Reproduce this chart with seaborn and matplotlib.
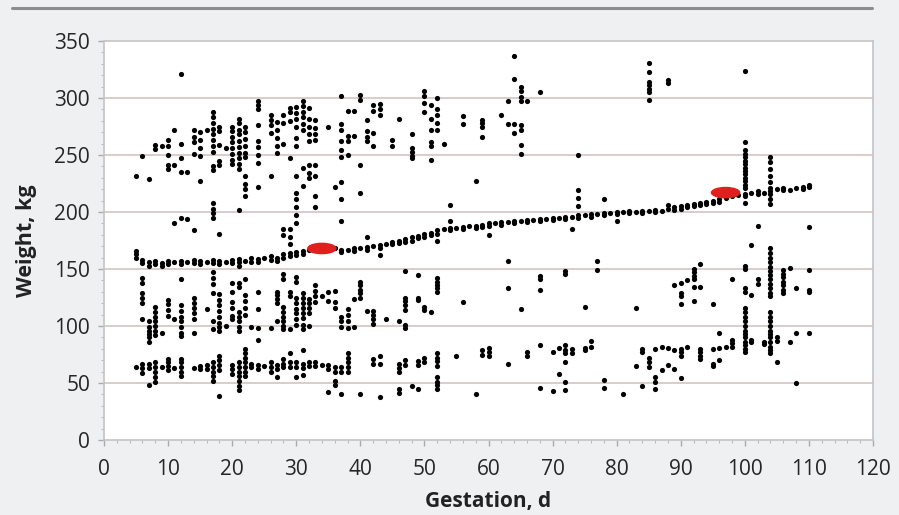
import pandas as pd
import seaborn as sns
import matplotlib.pyplot as plt
from matplotlib.patches import Ellipse
from matplotlib.lines import Line2D
from matplotlib.ticker import MultipleLocator

# gestation day -> body weights (kg), grouped by band
trend = {
    5: [166, 163, 160], 6: [158, 155], 7: [156, 153], 8: [157, 154], 9: [155, 153],
    10: [157, 154], 11: [156], 12: [157, 154], 13: [156], 14: [158, 155],
    15: [157, 154], 16: [156], 17: [158, 155], 18: [157, 154], 19: [156],
    20: [158, 155], 21: [159, 156, 153], 22: [157], 23: [160, 156], 24: [159, 156],
    25: [160], 26: [161, 158], 27: [160, 157], 28: [163, 160], 29: [164, 161],
    30: [165, 162], 31: [166, 163], 32: [167], 33: [168], 34: [168], 35: [167],
    36: [168], 37: [167, 165], 38: [167], 39: [168, 166], 40: [168],
    41: [169, 167], 42: [170], 43: [171, 168], 44: [172], 45: [174, 172],
    46: [175, 173], 47: [176, 174], 48: [178, 175], 49: [179, 177], 50: [181, 178],
    51: [182, 180], 52: [184, 181], 53: [185], 54: [186, 184], 55: [186],
    56: [187, 185], 57: [188], 58: [188, 186], 59: [189, 187], 60: [190, 188],
    61: [190], 62: [191, 189], 63: [191], 64: [192, 190], 65: [192],
    66: [193, 191], 67: [193], 68: [194, 192], 69: [194], 70: [195, 193],
    71: [195], 72: [196, 194], 73: [196], 74: [197, 195], 75: [197],
    76: [198, 196], 77: [198], 78: [199, 197], 79: [199], 80: [200, 198],
    81: [200], 82: [201, 199], 83: [200], 84: [201, 199], 85: [201],
    86: [202, 200], 87: [201], 88: [203], 89: [204, 202], 90: [205, 203],
    91: [206, 204], 92: [207, 205], 93: [208, 206], 94: [209, 207], 95: [210, 208],
    96: [211, 209], 97: [212], 98: [214], 99: [215], 100: [216, 214],
    101: [217], 102: [218, 216], 103: [217], 104: [218, 216], 105: [220],
    106: [221, 219], 107: [219], 108: [221], 109: [222, 220], 110: [224, 222],
}

upper = {
    5: [232], 6: [249], 7: [229], 8: [259, 255], 9: [258],
    10: [263, 258, 250, 241, 238], 11: [272, 241, 190],
    12: [321, 260, 247, 235, 195], 13: [235, 194],
    14: [272, 266, 261, 251, 184], 15: [270, 263, 256, 249, 227], 16: [272],
    17: [288, 283, 278, 273, 268, 263, 258, 253, 240, 237, 208, 203, 199, 195],
    18: [275, 271, 259, 245, 241, 181], 19: [256],
    20: [275, 271, 266, 261, 256, 251, 246, 242],
    21: [282, 278, 272, 268, 262, 257, 252, 247, 242, 238, 202],
    22: [275, 270, 264, 258, 252, 248, 232, 225, 220, 214],
    24: [297, 294, 290, 276, 262, 257, 250, 243, 222],
    26: [285, 281, 276, 269, 232], 27: [279, 272, 265, 258, 252],
    28: [285, 278, 260, 185, 180], 29: [291, 288, 280, 247, 185, 178, 172],
    30: [292, 287, 282, 275, 265, 258, 232, 217, 211, 204, 197, 190],
    31: [297, 293, 288, 283, 277, 272, 239, 223],
    32: [291, 282, 275, 268, 262, 241, 234, 230],
    33: [281, 274, 268, 263, 241, 232, 214, 204],
    35: [275], 36: [222],
    37: [302, 277, 272, 262, 254, 248, 226, 211, 192],
    38: [289, 267, 262, 250], 39: [289, 267], 40: [303, 298, 241, 217],
    41: [281, 271, 266, 262, 178], 42: [294, 289, 269, 258], 43: [295, 290, 285, 162],
    45: [263, 258], 46: [282], 48: [268, 256, 253, 249, 247],
    50: [306, 302, 296, 288], 51: [294, 282, 272, 261, 258, 246],
    52: [300, 290, 285, 278, 272, 175], 53: [260], 54: [206, 192],
    56: [284, 277], 58: [227], 59: [281, 278, 275, 266], 60: [180], 62: [285],
    63: [297, 277], 64: [337, 317, 277, 269],
    65: [310, 306, 301, 297, 276, 272, 259, 251], 66: [297], 68: [305],
    73: [185], 74: [250, 219, 212, 205], 78: [211], 80: [192],
    85: [331, 323, 314, 311, 308, 305, 298], 88: [316, 313, 206],
    100: [324, 261, 254, 251, 248, 245, 242, 239, 236, 233, 230, 227, 224, 221, 208],
    102: [188], 104: [248, 244, 238, 232, 226, 221, 211, 207], 110: [187],
}

middle = {
    6: [142, 138, 129, 125, 120, 106], 7: [104, 99, 96, 93, 90, 86],
    8: [117, 112, 108, 104, 100, 96, 92], 9: [94], 10: [123, 119, 114, 109],
    11: [106], 12: [141, 118, 113, 108, 104, 99, 94, 91],
    14: [125, 120, 116, 111, 106, 94], 16: [115],
    17: [147, 142, 137, 129, 104, 97], 18: [128, 123, 118, 113, 108, 103, 99, 96],
    19: [100], 20: [138, 130, 121, 116, 109, 106],
    21: [138, 134, 112, 108, 104, 99, 96], 22: [141, 127, 122, 116, 110],
    23: [99], 24: [130, 115, 98, 88], 26: [98], 27: [130, 127, 124, 120, 104],
    28: [146, 141, 117, 112, 108, 104, 100, 97], 29: [130, 126, 97],
    30: [143, 139, 125, 120, 115, 111, 106, 101],
    31: [129, 125, 120, 116, 111, 107, 101, 97], 32: [124, 120, 116, 111, 100],
    33: [136, 131, 126, 121], 34: [126], 35: [130, 122], 36: [131, 121, 116],
    37: [108, 104, 99], 38: [115, 110, 104, 98], 39: [124, 99],
    40: [139, 136, 132, 129, 125], 41: [113], 42: [113, 110, 106, 102],
    44: [106], 46: [104], 47: [148, 125, 122, 118, 114, 101, 98],
    49: [145, 125, 123], 50: [117, 114], 51: [112], 52: [142, 139, 136, 133, 130],
    56: [121], 63: [157, 133], 65: [115], 68: [144, 141, 132], 72: [148, 146],
    75: [117], 77: [157, 149], 83: [116], 89: [136], 90: [138, 129, 126, 119],
    91: [140], 92: [150, 147, 144, 141, 134, 122], 93: [154, 134], 95: [119],
    98: [141],
    100: [153, 150, 133, 130, 116, 112, 108, 104, 100, 96, 93, 90, 86, 83, 80, 77],
    101: [171, 127], 102: [141, 137],
    104: [168, 164, 160, 156, 152, 148, 145, 141, 137, 133, 129, 126,
          112, 108, 104, 100, 96, 93, 90, 86, 82, 79, 76],
    106: [149, 146, 143, 139, 136, 132, 129], 107: [151], 108: [133],
    110: [149, 132, 130],
}

lower = {
    5: [64], 6: [67, 63, 59], 7: [67, 63, 48], 8: [68, 64, 60, 55, 51], 9: [64],
    10: [71, 68, 65, 61], 11: [63], 12: [71, 68, 64, 60, 56], 14: [63],
    15: [65, 62], 16: [66, 62], 17: [68, 64, 60, 56, 52], 18: [74, 70, 66, 61, 39],
    20: [66, 62, 58], 21: [68, 64, 60, 56, 52, 47, 44],
    22: [80, 76, 72, 68, 64, 60, 56], 23: [67, 64], 24: [66, 62], 25: [65],
    26: [68, 64, 60], 27: [66, 62, 55], 28: [71, 67, 64], 29: [76, 68, 64],
    30: [68, 64, 55], 31: [79, 67, 63, 57], 32: [68, 65], 33: [68, 65], 34: [66],
    35: [66, 62, 42], 36: [64, 60, 52, 48], 37: [64, 60, 40],
    38: [76, 72, 68, 64, 60], 40: [40], 42: [71, 67], 43: [74, 67, 38],
    46: [67, 63, 60, 45, 41], 47: [70, 66], 48: [47], 49: [69, 66, 45], 50: [72, 68],
    52: [76, 72, 69, 65, 55, 51, 48, 45], 55: [74], 58: [40], 59: [79, 75],
    60: [81, 77, 74], 63: [67], 66: [77, 74], 68: [83, 46], 70: [77, 43],
    71: [81, 58], 72: [83, 79, 76, 68, 51, 44], 73: [80, 76], 75: [81, 79],
    76: [87, 82], 78: [53, 46], 81: [40], 83: [65], 84: [80, 77, 47],
    85: [72, 68, 64], 86: [80, 55, 51, 45], 87: [82, 61], 88: [81, 66],
    89: [79, 62], 90: [80, 77, 74, 54], 91: [82], 93: [80, 77, 74, 71],
    95: [80, 67, 65], 96: [94, 81, 70], 97: [82], 98: [88, 85, 82],
    101: [88, 86], 103: [86, 84], 105: [90, 87, 68], 107: [86], 108: [94, 50],
    110: [94],
}

# red highlight marks on the trend line
highlight_days = [34, 97]
highlight_wts = [168, 217]

x_ticks = list(range(0, 121, 10))
y_ticks = list(range(0, 351, 50))


def to_frame(groups):
    rows = []
    for g in groups:
        for day, wts in g.items():
            for w in wts:
                rows.append((day, w))
    return pd.DataFrame(rows, columns=['gestation', 'weight'])


df = to_frame([trend, upper, middle, lower])

sns.set_theme(style='white')
plt.rcParams['font.family'] = ['Open Sans', 'DejaVu Sans']

bg = '#eff0f2'
fig = plt.figure(figsize=(8.99, 5.15), dpi=100, facecolor=bg)
ax = fig.add_axes([104 / 899, 1 - 440 / 515, 769 / 899, 399 / 515])
ax.set_facecolor('white')

for y in y_ticks[1:-1]:
    ax.axhline(y, color='#d8cccc', lw=1.4, zorder=0)

sns.scatterplot(data=df, x='gestation', y='weight', ax=ax, color='black',
                s=14, linewidth=0, zorder=3)

for d, w in zip(highlight_days, highlight_wts):
    ax.add_patch(Ellipse((d, w), width=4.4, height=9, color='#e0201e', zorder=4))

ax.set_xlim(0, 120)
ax.set_ylim(0, 350)
ax.set_xticks(x_ticks)
ax.set_yticks(y_ticks)
ax.xaxis.set_minor_locator(MultipleLocator(2))
ax.yaxis.set_minor_locator(MultipleLocator(10))
ax.tick_params(axis='both', which='major', labelsize=15, labelcolor='#262626',
               color='#aaaaaa', length=4, width=1, direction='out')
ax.tick_params(axis='both', which='minor', color='#bbbbbb', length=2, width=0.8,
               direction='out')
ax.tick_params(axis='x', which='major', pad=10)
ax.tick_params(axis='y', which='major', pad=6)
ax.tick_params(bottom=True, left=True, which='both')

for sp in ax.spines.values():
    sp.set_color('#c4c4c4')
    sp.set_linewidth(1.2)

ax.set_xlabel('Gestation, d', fontsize=15, fontweight='bold', color='#222222')
ax.set_ylabel('Weight, kg', fontsize=15.5, fontweight='bold', color='#222222')
ax.xaxis.set_label_coords(0.5, -0.128)
ax.yaxis.set_label_coords(-0.087, 0.5)

fig.add_artist(Line2D([12 / 899, 872 / 899], [1 - 8 / 515, 1 - 8 / 515],
                      color='#8c8c8c', lw=2.2))

fig.savefig('out.png', dpi=100, facecolor=bg)
